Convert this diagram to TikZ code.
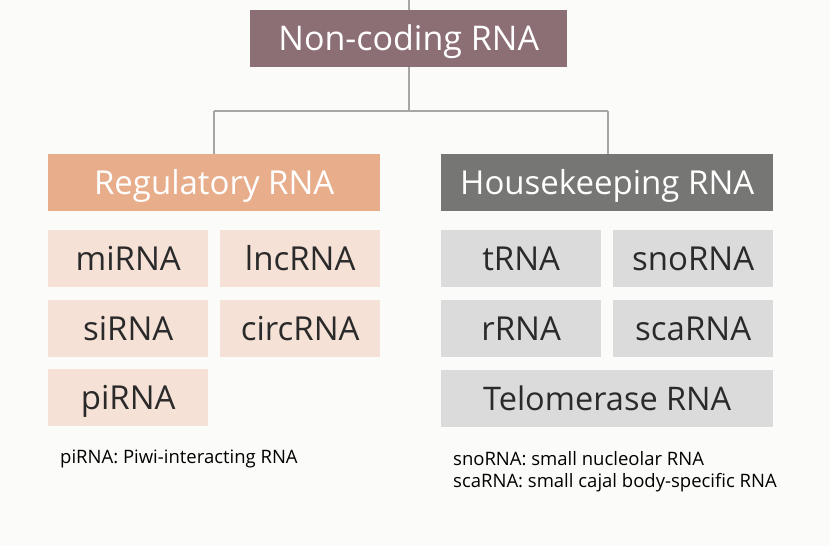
\documentclass[tikz,border=0pt]{standalone}
\usepackage{fontspec}
\setmainfont{Open Sans}
\definecolor{bg}{HTML}{FBFBF9}
\definecolor{topc}{HTML}{8C6E75}
\definecolor{regc}{HTML}{E8AE8C}
\definecolor{hkc}{HTML}{767774}
\definecolor{regl}{HTML}{F5E1D6}
\definecolor{hkl}{HTML}{DBDBDB}
\definecolor{linec}{HTML}{A6A6A6}
\definecolor{txt}{HTML}{2A2A2A}
\begin{document}
\begin{tikzpicture}[x=1pt,y=-1pt,
  boxbase/.style={draw=none,inner sep=0pt,anchor=north west,text depth=0pt},
  topbox/.style={boxbase,fill=topc,text=white,minimum width=317pt,minimum height=57pt,text height=24.3pt,font=\fontsize{34}{38}\selectfont},
  catbox/.style={boxbase,text=white,minimum width=332pt,minimum height=57pt,text height=23.6pt,font=\fontsize{33}{37}\selectfont},
  leaf/.style={boxbase,text=txt,minimum width=160pt,minimum height=57pt,text height=23.6pt,font=\fontsize{33}{37}\selectfont},
  wideleaf/.style={leaf,minimum width=332pt,text height=23.2pt,font=\fontsize{32.5}{37}\selectfont},
  note/.style={anchor=west,inner sep=0pt,text=black,font=\fontsize{18.5}{21}\selectfont},
  conn/.style={draw=linec,line width=1.3pt}]
\fill[bg] (0,0) rectangle (830,546);
\useasboundingbox (0,0) rectangle (830,546);
\node[topbox] (nc) at (250,10) {Non-coding RNA};
\node[catbox,fill=regc] (reg) at (48,154) {Regulatory RNA};
\node[catbox,fill=hkc] (hk) at (441,154) {Housekeeping RNA};
\node[leaf,fill=regl] (mi) at (48,230) {miRNA};
\node[leaf,fill=regl] (lnc) at (220,230) {lncRNA};
\node[leaf,fill=regl] (si) at (48,300) {siRNA};
\node[leaf,fill=regl] (circ) at (220,300) {circRNA};
\node[leaf,fill=regl] (pi) at (48,369) {piRNA};
\node[leaf,fill=hkl] (t) at (441,230) {tRNA};
\node[leaf,fill=hkl] (sno) at (613,230) {snoRNA};
\node[leaf,fill=hkl] (r) at (441,300) {rRNA};
\node[leaf,fill=hkl] (sca) at (613,300) {scaRNA};
\node[wideleaf,fill=hkl] (tel) at (441,370) {Telomerase RNA};
\node[note] (n1) at (60,459) {piRNA: Piwi-interacting RNA};
\node[note] (n2) at (453,459) {snoRNA: small nucleolar RNA};
\node[note] (n3) at (453,483) {scaRNA: small cajal body-specific RNA};
\coordinate (topend) at (409,0);
\coordinate (mid) at (409,111);
\draw[conn] (topend) -- (nc.north -| topend);
\draw[conn] (nc.south -| mid) -- (mid);
\draw[conn] (214,111) -- (608,111);
\draw[conn] (214,111) -- (reg.north -| 214,0);
\draw[conn] (608,111) -- (hk.north -| 608,0);
\end{tikzpicture}
\end{document}
